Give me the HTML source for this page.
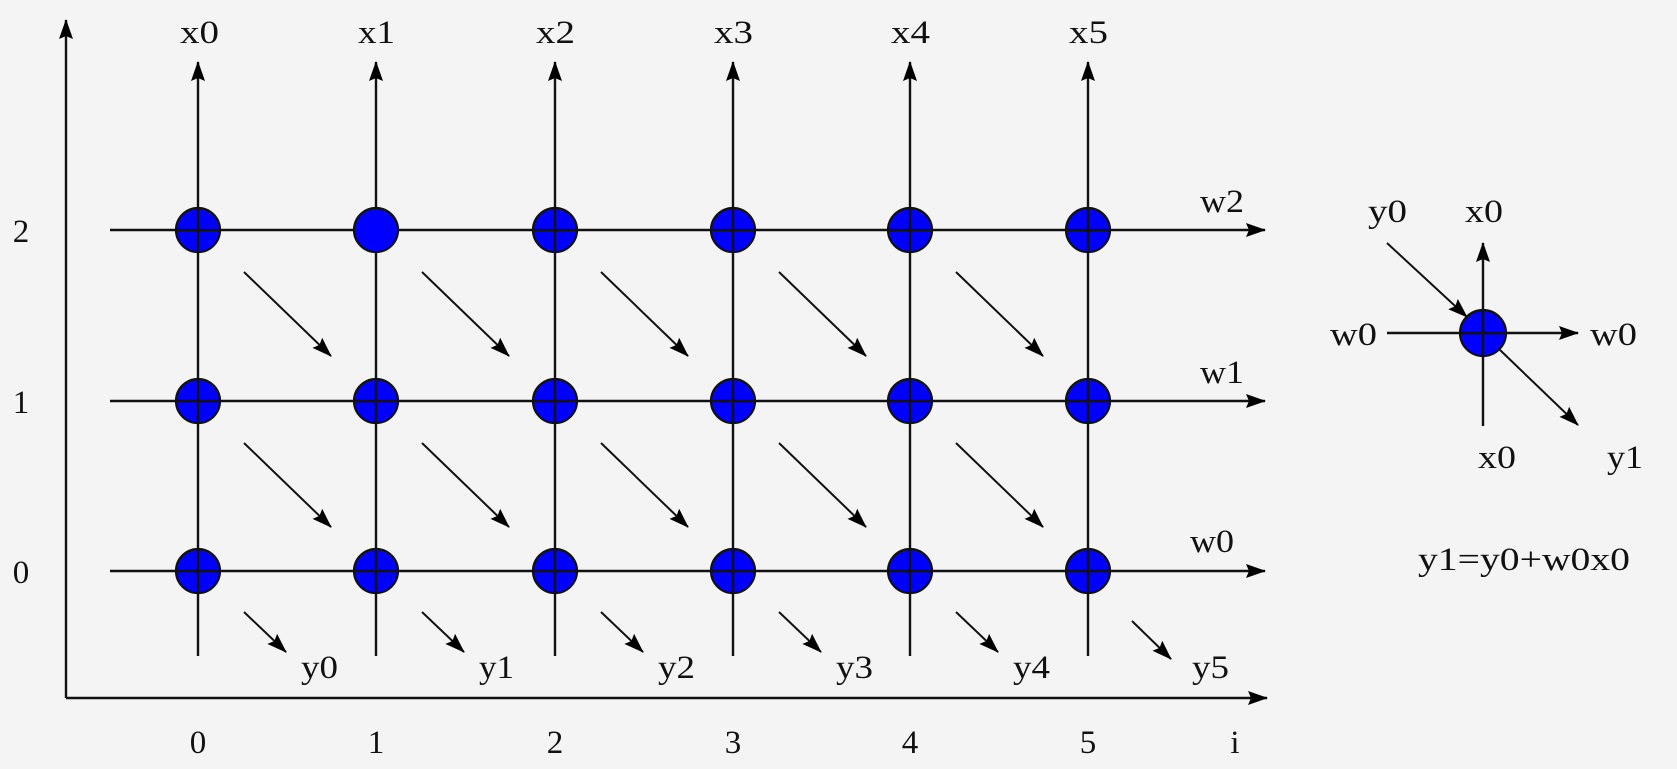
<!DOCTYPE html>
<html><head><meta charset="utf-8"><style>
html,body{margin:0;padding:0;background:#f4f4f4;}
svg{display:block;}
text{font-family:"Liberation Serif",serif;font-size:33px;fill:#111;}
</style></head><body>
<svg width="1677" height="769" viewBox="0 0 1677 769" xmlns="http://www.w3.org/2000/svg">
<defs>
<marker id="a" markerWidth="20" markerHeight="14" refX="19" refY="7" orient="auto" markerUnits="userSpaceOnUse">
<path d="M0,0 L20,7 L0,14 L3,7 z" fill="#000"/></marker>
</defs>
<rect width="1677" height="769" fill="#f4f4f4"/>
<g fill="#0000ff" stroke="#111" stroke-width="2.2">
<circle cx="198" cy="230" r="22"/><circle cx="555" cy="230" r="22"/><circle cx="733" cy="230" r="22"/><circle cx="910" cy="230" r="22"/><circle cx="1088" cy="230" r="22"/>
<circle cx="198" cy="401" r="22"/><circle cx="376" cy="401" r="22"/><circle cx="555" cy="401" r="22"/><circle cx="733" cy="401" r="22"/><circle cx="910" cy="401" r="22"/><circle cx="1088" cy="401" r="22"/>
<circle cx="198" cy="571" r="22"/><circle cx="376" cy="571" r="22"/><circle cx="555" cy="571" r="22"/><circle cx="733" cy="571" r="22"/><circle cx="910" cy="571" r="22"/><circle cx="1088" cy="571" r="22"/>
<circle cx="1483" cy="333" r="23"/>
</g>
<g stroke="#111" stroke-width="2.4" fill="none">
<line x1="66" y1="698" x2="66" y2="20" marker-end="url(#a)"/>
<line x1="66" y1="698" x2="1267" y2="698" marker-end="url(#a)"/>
<line x1="198" y1="656" x2="198" y2="62" marker-end="url(#a)"/>
<line x1="376" y1="656" x2="376" y2="62" marker-end="url(#a)"/>
<line x1="555" y1="656" x2="555" y2="62" marker-end="url(#a)"/>
<line x1="733" y1="656" x2="733" y2="62" marker-end="url(#a)"/>
<line x1="910" y1="656" x2="910" y2="62" marker-end="url(#a)"/>
<line x1="1088" y1="656" x2="1088" y2="62" marker-end="url(#a)"/>
<line x1="110" y1="230" x2="1265" y2="230" marker-end="url(#a)"/>
<line x1="110" y1="401" x2="1265" y2="401" marker-end="url(#a)"/>
<line x1="110" y1="571" x2="1265" y2="571" marker-end="url(#a)"/>
<g stroke-width="2">
<line x1="244" y1="272" x2="331" y2="356" marker-end="url(#a)"/>
<line x1="422" y1="272" x2="509" y2="356" marker-end="url(#a)"/>
<line x1="601" y1="272" x2="688" y2="356" marker-end="url(#a)"/>
<line x1="779" y1="272" x2="866" y2="356" marker-end="url(#a)"/>
<line x1="956" y1="272" x2="1043" y2="356" marker-end="url(#a)"/>
<line x1="244" y1="443" x2="331" y2="527" marker-end="url(#a)"/>
<line x1="422" y1="443" x2="509" y2="527" marker-end="url(#a)"/>
<line x1="601" y1="443" x2="688" y2="527" marker-end="url(#a)"/>
<line x1="779" y1="443" x2="866" y2="527" marker-end="url(#a)"/>
<line x1="956" y1="443" x2="1043" y2="527" marker-end="url(#a)"/>
<line x1="244" y1="612" x2="286" y2="652" marker-end="url(#a)"/>
<line x1="422" y1="612" x2="464" y2="652" marker-end="url(#a)"/>
<line x1="601" y1="612" x2="643" y2="652" marker-end="url(#a)"/>
<line x1="779" y1="612" x2="821" y2="652" marker-end="url(#a)"/>
<line x1="956" y1="612" x2="998" y2="652" marker-end="url(#a)"/>
<line x1="1132" y1="621" x2="1171" y2="659" marker-end="url(#a)"/>
</g>
<line x1="1387" y1="333" x2="1578" y2="333" marker-end="url(#a)"/>
<line x1="1483" y1="426" x2="1483" y2="243" marker-end="url(#a)"/>
<line x1="1387" y1="243" x2="1467" y2="317" stroke-width="2" marker-end="url(#a)"/>
<line x1="1500" y1="350" x2="1578" y2="425" stroke-width="2" marker-end="url(#a)"/>
</g>
<circle cx="376" cy="230" r="22" fill="#0000ff" stroke="#111" stroke-width="2.2"/>
<text x="180" y="43" textLength="39" lengthAdjust="spacingAndGlyphs">x0</text>
<text x="358" y="43" textLength="37" lengthAdjust="spacingAndGlyphs">x1</text>
<text x="536" y="43" textLength="39" lengthAdjust="spacingAndGlyphs">x2</text>
<text x="714" y="43" textLength="39" lengthAdjust="spacingAndGlyphs">x3</text>
<text x="891" y="43" textLength="39" lengthAdjust="spacingAndGlyphs">x4</text>
<text x="1069" y="43" textLength="39" lengthAdjust="spacingAndGlyphs">x5</text>
<g text-anchor="middle">
<text x="198" y="753">0</text><text x="376" y="753">1</text><text x="555" y="753">2</text><text x="733" y="753">3</text><text x="910" y="753">4</text><text x="1088" y="753">5</text>
<text x="1235" y="753">i</text>
<text x="21" y="242">2</text><text x="21" y="413">1</text><text x="21" y="583">0</text>
</g>
<text x="1200" y="212" textLength="44" lengthAdjust="spacingAndGlyphs">w2</text>
<text x="1200" y="383" textLength="44" lengthAdjust="spacingAndGlyphs">w1</text>
<text x="1190" y="552" textLength="44" lengthAdjust="spacingAndGlyphs">w0</text>
<text x="301" y="678" textLength="37" lengthAdjust="spacingAndGlyphs">y0</text>
<text x="479" y="678" textLength="35" lengthAdjust="spacingAndGlyphs">y1</text>
<text x="658" y="678" textLength="37" lengthAdjust="spacingAndGlyphs">y2</text>
<text x="836" y="678" textLength="37" lengthAdjust="spacingAndGlyphs">y3</text>
<text x="1013" y="678" textLength="37" lengthAdjust="spacingAndGlyphs">y4</text>
<text x="1192" y="678" textLength="37" lengthAdjust="spacingAndGlyphs">y5</text>
<text x="1368" y="222" textLength="39" lengthAdjust="spacingAndGlyphs">y0</text>
<text x="1465" y="222" textLength="38" lengthAdjust="spacingAndGlyphs">x0</text>
<text x="1330" y="345" textLength="47" lengthAdjust="spacingAndGlyphs">w0</text>
<text x="1590" y="345" textLength="47" lengthAdjust="spacingAndGlyphs">w0</text>
<text x="1478" y="468" textLength="38" lengthAdjust="spacingAndGlyphs">x0</text>
<text x="1607" y="468" textLength="36" lengthAdjust="spacingAndGlyphs">y1</text>
<text x="1418" y="570" textLength="212" lengthAdjust="spacingAndGlyphs">y1=y0+w0x0</text>
</svg>
</body></html>
